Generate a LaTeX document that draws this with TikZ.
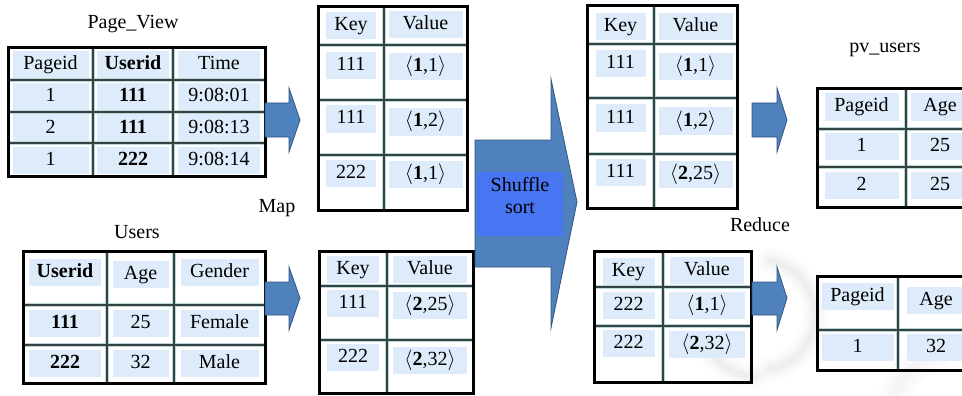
\documentclass[tikz,border=0pt]{standalone}
\usepackage{fontspec}
\setmainfont{Liberation Serif}
\definecolor{cellbg}{RGB}{221,235,250}
\definecolor{gridc}{RGB}{52,66,66}
\definecolor{gridl}{RGB}{185,215,215}
\definecolor{arrowc}{RGB}{79,129,189}
\definecolor{arrowd}{RGB}{50,85,130}
\definecolor{shufbox}{RGB}{72,118,242}
\newcommand\fsz{\fontsize{20}{23}\selectfont}
\newcommand\pr[2]{$\langle$\textbf{#1},#2$\rangle$}
\newcommand\C[5]{\node[cell, minimum width=#4pt] (#1) at (#2,#3) {#5};}
\tikzset{
  cell/.style={fill=cellbg, inner sep=0pt, minimum height=27pt, text height=14pt, text depth=4pt, font=\fsz},
  title/.style={inner sep=0pt, font=\fsz},
  outer/.style={draw=black, line width=3pt},
  gridlt/.style={draw=gridl, line width=3.6pt},
  griddk/.style={draw=gridc, line width=2pt},
  blockarrow/.style={fill=arrowc, draw=arrowd, line width=0.8pt},
  shadowarc/.style={draw=black, line cap=round},
}
\begin{document}
\begin{tikzpicture}[x=1pt,y=-1pt]
\useasboundingbox (0,0) rectangle (962,396);
\clip (0,0) rectangle (962,396);
% faint background swirl
\foreach \w/\o in {26/0.012,18/0.015,11/0.018,5/0.02}{
  \draw[shadowarc, line width=\w pt, opacity=\o] (760,315) ++(-80:55) arc (-80:80:55);
  \draw[shadowarc, line width=\w pt, opacity=\o] (760,315) ++(95:62) arc (95:150:62);
}
\foreach \w/\o in {34/0.01,22/0.012,10/0.015}{
  \draw[shadowarc, line width=\w pt, opacity=\o] (960,420) ++(190:70) arc (190:250:70);
}

% titles
\node[title] (tpv) at (133,24) {Page\_View};
\node[title] (tus) at (137,232) {Users};
\node[title] (tmap) at (277,208) {Map};
\node[title] (tred) at (760,225) {Reduce};
\node[title] (tpvu) at (885,50) {pv\_users};

% ---------- Page_View table ----------
\C{a00}{50.5}{65}{76}{Pageid}
\C{a01}{133}{65}{72}{\textbf{Userid}}
\C{a02}{219}{65}{82}{Time}
\C{a10}{50.5}{97}{76}{1}
\C{a11}{133}{97}{72}{\textbf{111}}
\C{a12}{219}{97}{82}{9:08:01}
\C{a20}{50.5}{128}{76}{2}
\C{a21}{133}{128}{72}{\textbf{111}}
\C{a22}{219}{128}{82}{9:08:13}
\C{a30}{50.5}{160}{76}{1}
\C{a31}{133}{160}{72}{\textbf{222}}
\C{a32}{219}{160}{82}{9:08:14}
\draw[gridlt] (93,48)--(93,176) (173,48)--(173,176) (8,80)--(265,80) (8,112)--(265,112) (8,143)--(265,143);
\draw[griddk] (93,48)--(93,176) (173,48)--(173,176) (8,80)--(265,80) (8,112)--(265,112) (8,143)--(265,143);
\draw[outer] (8,48) rectangle (265,176);

% ---------- Users table ----------
\C{b00}{65}{272}{72}{\textbf{Userid}}
\C{b01}{140.5}{274}{56}{Age}
\C{b02}{219.5}{272}{78}{Gender}
\C{b10}{65}{323}{72}{\textbf{111}}
\C{b11}{140.5}{323}{56}{25}
\C{b12}{219.5}{323}{78}{Female}
\C{b20}{65}{363}{72}{\textbf{222}}
\C{b21}{140.5}{363}{56}{32}
\C{b22}{219.5}{363}{78}{Male}
\draw[gridlt] (107,251)--(107,383) (174,251)--(174,383) (23,305)--(265,305) (23,345)--(265,345);
\draw[griddk] (107,251)--(107,383) (174,251)--(174,383) (23,305)--(265,305) (23,345)--(265,345);
\draw[outer] (23,251) rectangle (265,383);

% ---------- block arrows (map) ----------
\path[blockarrow] (265,103)--(289,103)--(289,88)--(300,120)--(289,152)--(289,137)--(265,137)--cycle;
\path[blockarrow] (265,282)--(289,282)--(289,267)--(300,298)--(289,330)--(289,315)--(265,315)--cycle;

% ---------- Map output table 1 ----------
\C{c00}{351}{26}{50}{Key}
\C{c01}{425.5}{25}{74}{Value}
\C{c10}{351}{66}{50}{111}
\C{c11}{425.5}{67}{74}{\pr{1}{1}}
\C{c20}{351}{119}{50}{111}
\C{c21}{425.5}{122}{74}{\pr{1}{2}}
\C{c30}{351}{173}{50}{222}
\C{c31}{425.5}{174}{74}{\pr{1}{1}}
\draw[gridlt] (384,7)--(384,210) (318,45)--(467,45) (318,100)--(467,100) (318,155)--(467,155);
\draw[griddk] (384,7)--(384,210) (318,45)--(467,45) (318,100)--(467,100) (318,155)--(467,155);
\draw[outer] (318,7) rectangle (467,210);

% ---------- Map output table 2 ----------
\C{d00}{353}{269}{52}{Key}
\C{d01}{430}{269}{74}{Value}
\C{d10}{353}{303}{52}{111}
\C{d11}{430}{305}{74}{\pr{2}{25}}
\C{d20}{353}{357}{52}{222}
\C{d21}{430}{360}{74}{\pr{2}{32}}
\draw[gridlt] (387,251)--(387,393) (319,286)--(473,286) (319,340)--(473,340);
\draw[griddk] (387,251)--(387,393) (319,286)--(473,286) (319,340)--(473,340);
\draw[outer] (319,251) rectangle (473,393);

% ---------- Shuffle sort arrow ----------
\path[blockarrow] (475,140)--(551,140)--(551,79)--(577,202)--(551,328)--(551,267)--(475,267)--cycle;
\node[fill=shufbox, minimum width=86pt, minimum height=64pt, inner sep=0pt] (shufbox) at (520,204) {};
\node[font=\fsz, align=center, inner sep=0pt] (shuf) at (520,196) {Shuffle\\[-1pt]sort};

% ---------- Shuffle output table 1 ----------
\C{e00}{620.5}{27}{50}{Key}
\C{e01}{695.5}{27}{74}{Value}
\C{e10}{620.5}{64}{50}{111}
\C{e11}{695.5}{67}{74}{\pr{1}{1}}
\C{e20}{620.5}{118}{50}{111}
\C{e21}{695.5}{121}{74}{\pr{1}{2}}
\C{e30}{620.5}{172}{50}{111}
\C{e31}{695.5}{174}{74}{\pr{2}{25}}
\draw[gridlt] (654,6)--(654,208) (587,44)--(737,44) (587,98)--(737,98) (587,154)--(737,154);
\draw[griddk] (654,6)--(654,208) (587,44)--(737,44) (587,98)--(737,98) (587,154)--(737,154);
\draw[outer] (587,6) rectangle (737,208);

% ---------- Shuffle output table 2 ----------
\C{f00}{628.5}{271}{52}{Key}
\C{f01}{707}{270}{74}{Value}
\C{f10}{628.5}{305}{52}{222}
\C{f11}{707}{305}{76}{\pr{1}{1}}
\C{f20}{628.5}{343}{52}{222}
\C{f21}{707}{344}{76}{\pr{2}{32}}
\draw[gridlt] (663,251)--(663,382) (594,287)--(751,287) (594,326)--(751,326);
\draw[griddk] (663,251)--(663,382) (594,287)--(751,287) (594,326)--(751,326);
\draw[outer] (594,251) rectangle (751,382);

% ---------- block arrows (reduce) ----------
\path[blockarrow] (752,103)--(777,103)--(777,88)--(787,120)--(777,152)--(777,137)--(752,137)--cycle;
\path[blockarrow] (752,282)--(777,282)--(777,267)--(787,298)--(777,330)--(777,315)--(752,315)--cycle;

% ---------- pv_users table 1 ----------
\C{g00}{861.5}{107}{74}{Pageid}
\C{g01}{940}{107}{58}{Age}
\C{g10}{861.5}{146}{74}{1}
\C{g11}{940}{146}{58}{25}
\C{g20}{861.5}{185}{74}{2}
\C{g21}{940}{185}{58}{25}
\draw[gridlt] (906,89)--(906,207) (817,129)--(980,129) (817,167)--(980,167);
\draw[griddk] (906,89)--(906,207) (817,129)--(980,129) (817,167)--(980,167);
\draw[outer] (817,89) rectangle (980,207);

% ---------- pv_users table 2 ----------
\C{h00}{857.5}{296}{72}{Pageid}
\C{h01}{936}{300}{58}{Age}
\C{h10}{857.5}{347}{72}{1}
\C{h11}{936}{347}{58}{32}
\draw[gridlt] (898,276)--(898,370) (817,330)--(980,330);
\draw[griddk] (898,276)--(898,370) (817,330)--(980,330);
\draw[outer] (817,276) rectangle (980,370);
\end{tikzpicture}
\end{document}
